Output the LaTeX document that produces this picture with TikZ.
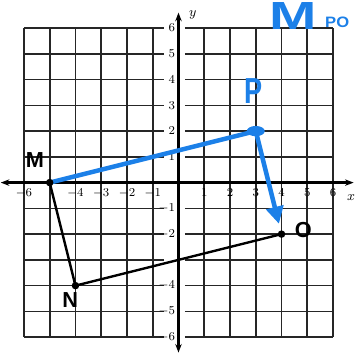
\documentclass[tikz,border=0pt]{standalone}
\usepackage{fontspec}
\newfontfamily\labelfont{Liberation Sans}
\usepackage{tikz}
\usetikzlibrary{positioning, arrows.meta, calc}
\definecolor{pen}{RGB}{28,128,232}
\tikzset{
    gridline/.style={
        line width=1.1pt, black!85
    },
    axis/.style={
        line width=1.5pt, {Stealth[length=2mm]}-{Stealth[length=2mm]}
    },
    side/.style={
        line width=1.6pt, black
    },
    ink/.style={
        line width=3pt, pen, line cap=round
    },
    vertex/.style={
        circle, fill=black, inner sep=0pt, minimum size=5pt
    },
    ptname/.style={
        font=\labelfont\bfseries\Large
    },
    tick/.style={
        font=\footnotesize, inner sep=1pt
    }
}

\begin{document}
\begin{tikzpicture}[
    x=0.6cm, y=0.6cm,
    >=Stealth
]
\useasboundingbox (-6.93,-6.66) rectangle (6.97,7.09);

% grid
\foreach \i in {-6,...,-1,1,2,...,6}
    \draw[gridline] (\i,-6) -- (\i,6);
\foreach \j in {-6,...,-1,1,2,...,6} {
    \draw[gridline] (-6,\j) -- (-0.55,\j);
    \draw[gridline] (0.25,\j) -- (6,\j);
}

% axes
\coordinate (xl) at (-6.9,0);
\coordinate (xr) at (6.8,0);
\coordinate (yt) at (0,6.6);
\coordinate (yb) at (0,-6.6);
\draw[axis] (xl) -- (xr);
\draw[axis] (yb) -- (yt);
\node[font=\small] (xlab) at (6.7,-0.58) {$x$};
\node[font=\small] (ylab) at (0.56,6.5) {$y$};

\foreach \i in {-6,-4,-3,-2,-1,1,2,...,6}
    \node[tick] at (\i,-0.4) {$\i$};
\foreach \j in {-6,-5,-4,-2,-1,1,2,...,6}
    \node[tick, anchor=east] at (-0.06,\j) {$\j$};

% figure
\coordinate (M) at (-5,0);
\coordinate (N) at (-4,-4);
\coordinate (O) at (4,-2);
\coordinate (P) at (3,2);

\draw[side] (M) -- (N) -- (O);
\draw[ink] (M) -- (P);
\draw[ink, -{Triangle[length=4mm, width=4mm]}] (P) -- ($(O)!0.1!(P)$);
\fill[pen] (P) ellipse (0.35 and 0.2);

\node[vertex] at (M) {};
\node[vertex] at (N) {};
\node[vertex] at (O) {};

\node[ptname] (mlab) at (-5.57,0.87) {M};
\node[ptname] (nlab) at (-4.2,-4.56) {N};
\node[ptname] (olab) at (4.85,-1.85) {O};

% handwriting
\node[text=pen, font=\labelfont\bfseries\fontsize{24}{24}\selectfont, xscale=0.75] (plab) at (2.92,3.55) {P};
\node[text=pen, font=\labelfont\bfseries\fontsize{26}{26}\selectfont, xscale=1.45] (mpo) at (4.45,6.45) {M};
\node[text=pen, font=\labelfont\bfseries, anchor=south west, xscale=1.1] (po) at ($(mpo.south east)+(-0.2,0.1)$) {PO};

\end{tikzpicture}
\end{document}
